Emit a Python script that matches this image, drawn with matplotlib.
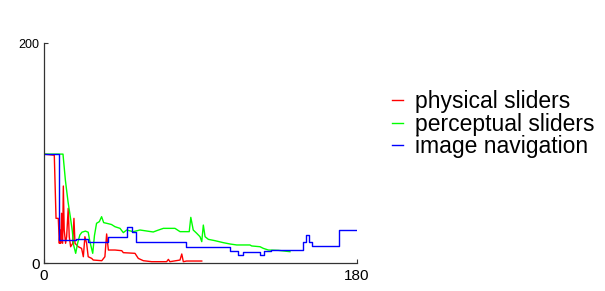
import matplotlib
matplotlib.use("Agg")
import matplotlib.pyplot as plt

plt.rcParams['font.family'] = ['Liberation Sans', 'DejaVu Sans']

# series (x, value)
red_x = [0, 6.1, 7.1, 8.4, 9.0, 9.4, 9.8, 10.3, 10.9, 11.3, 11.8, 12.6, 13.2, 14.1,
         14.7, 15.5, 16.7, 17.4, 18.0, 19.9, 21.8, 22.8, 23.7, 24.7, 25.6, 27.6, 28.5,
         33.4, 35.2, 36.2, 37.2, 41.0, 44.9, 45.8, 52.5, 54.4, 57.3, 62.1, 70.7, 71.7,
         72.6, 78.4, 79.4, 80.3, 82.2, 90.9]
red_y = [99, 98, 40.6, 40.6, 17.9, 30, 17.9, 45.2, 17.9, 70, 30, 17.9, 23.9, 49.7,
         23.9, 14.8, 17.9, 40.6, 17.9, 14.8, 13.3, 5.7, 23.9, 17.9, 5.7, 4.2, 2.7,
         2.1, 5.7, 26.4, 11.8, 11.8, 11.2, 9.4, 8.8, 4.2, 2.1, 1.2, 1.2, 3.3,
         1.2, 2.7, 8.2, 1.2, 1.8, 1.8]

green_x = [0, 11.1, 12.5, 14.0, 15.5, 16.5, 17.2, 18.4, 19.5, 20.8, 22.0, 24.0, 25.6,
           26.5, 28.2, 29.2, 30.4, 32.0, 33.3, 34.5, 36.2, 39.0, 41.0, 43.9, 45.8, 47.7,
           51.5, 55.4, 59.2, 63.0, 65.0, 68.8, 75.5, 78.4, 83.7, 84.6, 86.0, 88.0, 89.9,
           90.9, 91.8, 92.8, 94.7, 98.5, 103.3, 107.1, 111.0, 118.6, 119.6, 124.4,
           126.3, 129.2, 135.0, 141.6]
green_y = [99, 99, 75, 55.7, 40, 28.5, 16.4, 8.8, 17.9, 25.5, 28, 29, 28,
           20, 8.8, 25, 36.1, 37.6, 42.1, 36.7, 36.1, 35, 33, 31.5, 27.6, 30,
           28.5, 30, 29.1, 28.2, 29.4, 31.5, 31.5, 28.5, 28.5, 41.5, 30, 27, 23.9,
           19.4, 34.5, 23.9, 21.5, 20.3, 18.5, 17.3, 16.4, 16.4, 15.5, 14.8,
           13.3, 11.8, 11.5, 10.3]

# image navigation is a step series: value holds until the next x
blue_x = [0, 8.6, 18.8, 25.5, 37.2, 48.0, 51.0, 53.0, 81.8, 107.1, 111.9, 114.8,
          124.4, 126.7, 130.5, 149.3, 150.7, 152.5, 154.5, 170.0, 180.0]
blue_y = [99, 20.9, 21.8, 19.4, 23.3, 32.4, 28.2, 19.0, 15.0, 11.2, 7.3, 10.3,
          7.3, 11.2, 11.8, 19.4, 25.5, 19.4, 15.3, 30.0, 30.0]

labels = ['physical sliders', 'perceptual sliders', 'image navigation']

fig = plt.figure(figsize=(6.05, 2.91), dpi=100)
ax = fig.add_axes([0.0722, 0.0962, 0.5174, 0.756])

ax.plot(red_x, red_y, color='#ff0000', lw=1.0, label=labels[0])
ax.plot(green_x, green_y, color='#00ff00', lw=1.0, label=labels[1])
ax.plot(blue_x, blue_y, color='#0000ff', lw=1.0, drawstyle='steps-post', label=labels[2])

ax.set_xlim(0, 180)
ax.set_ylim(0, 200)
ax.set_xticks([0, 180])
ax.set_yticks([0, 200])
ax.tick_params(direction='in', length=3, width=0.8, labelsize=11, pad=4,
               color='#333333')
ax.tick_params(axis='y', pad=3)
ax.get_yticklabels()[1].set_fontsize(9)
for s in ['top', 'right']:
    ax.spines[s].set_visible(False)
for s in ['left', 'bottom']:
    ax.spines[s].set_color('#333333')
    ax.spines[s].set_linewidth(0.9)

fig.legend(loc='upper left', bbox_to_anchor=(0.648, 0.69), frameon=False,
           fontsize=16.5, handlelength=0.5, handletextpad=0.5, labelspacing=-0.02,
           borderpad=0, borderaxespad=0)

fig.savefig('out.png', dpi=100)
